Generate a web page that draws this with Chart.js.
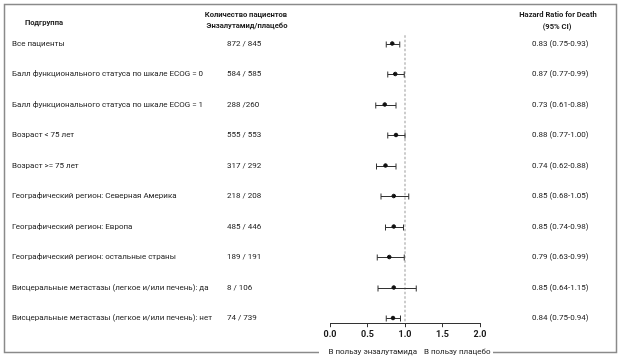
<!DOCTYPE html>
<html>
<head>
<meta charset="utf-8">
<script src="https://cdn.jsdelivr.net/npm/chart.js@4/dist/chart.umd.min.js"></script>
<style>
html,body{margin:0;padding:0;background:#fff;}
#wrap{width:621px;height:360px;position:relative;}
</style>
</head>
<body>
<div id="wrap"><canvas id="c" width="621" height="360"></canvas></div>
<script>
const subgroups = [
  'Все пациенты',
  'Балл функционального статуса по шкале ECOG = 0',
  'Балл функционального статуса по шкале ECOG = 1',
  'Возраст < 75 лет',
  'Возраст >= 75 лет',
  'Географический регион: Северная Америка',
  'Географический регион: Европа',
  'Географический регион: остальные страны',
  'Висцеральные метастазы (легкое и/или печень): да',
  'Висцеральные метастазы (легкое и/или печень): нет'
];
const counts = ['872 / 845','584 / 585','288 /260','555 / 553','317 / 292','218 / 208','485 / 446','189 / 191','8 / 106','74 / 739'];
const hr   = [0.83, 0.87, 0.73, 0.88, 0.74, 0.85, 0.85, 0.79, 0.85, 0.84];
const ciLo = [0.75, 0.77, 0.61, 0.77, 0.62, 0.68, 0.74, 0.63, 0.64, 0.75];
const ciHi = [0.93, 0.99, 0.88, 1.00, 0.88, 1.05, 0.98, 0.99, 1.15, 0.94];
const xTicks = [0.0, 0.5, 1.0, 1.5, 2.0];
const headerSub = 'Подгруппа';
const headerCount = ['Количество пациентов', 'Энзалутамид/плацебо'];
const headerHR = ['Hazard Ratio for Death', '(95% CI)'];
const favorLeft = 'В пользу энзалутамида';
const favorRight = 'В пользу плацебо';
const refValue = 1.0;

const points = hr.map((v, i) => ({x: v, y: i, lo: ciLo[i], hi: ciHi[i]}));
const fmt = v => v.toFixed(2);
const hrText = hr.map((v, i) => fmt(v) + ' (' + fmt(ciLo[i]) + '-' + fmt(ciHi[i]) + ')');

const FONT = 'Roboto, "Open Sans", sans-serif';
const TXT = '#1a1a1a';

const forestPlugin = {
  id: 'forest',
  beforeDatasetsDraw(chart) {
    const {ctx, scales: {x, y}} = chart;
    ctx.save();
    ctx.strokeStyle = '#aaa';
    ctx.lineWidth = 1.2;
    ctx.setLineDash([2.5, 2]);
    const px = x.getPixelForValue(refValue);
    ctx.beginPath();
    ctx.moveTo(px, y.getPixelForValue(-0.27));
    ctx.lineTo(px, chart.chartArea.bottom);
    ctx.stroke();
    ctx.restore();
    ctx.save();
    ctx.strokeStyle = '#333';
    ctx.lineWidth = 1;
    points.forEach(p => {
      const yy = Math.round(y.getPixelForValue(p.y)) + 0.5;
      const x1 = x.getPixelForValue(p.lo), x2 = x.getPixelForValue(p.hi);
      ctx.beginPath();
      ctx.moveTo(x1, yy); ctx.lineTo(x2, yy);
      ctx.moveTo(x1, yy - 3); ctx.lineTo(x1, yy + 3);
      ctx.moveTo(x2, yy - 3); ctx.lineTo(x2, yy + 3);
      ctx.stroke();
    });
    ctx.restore();
  },
  afterDraw(chart) {
    const {ctx, scales: {y}} = chart;
    ctx.save();
    ctx.strokeStyle = '#8a8a8a';
    ctx.lineWidth = 1.5;
    ctx.strokeRect(4.5, 4.5, 612, 348);
    ctx.fillStyle = TXT;
    ctx.textBaseline = 'middle';
    ctx.font = 'bold 7.6px ' + FONT;
    ctx.textAlign = 'center';
    ctx.fillText(headerSub, 44, 23);
    ctx.fillText(headerCount[0], 246, 15);
    ctx.fillText(headerCount[1], 247, 26);
    ctx.fillText(headerHR[0], 558, 15);
    ctx.fillText(headerHR[1], 557, 27);
    ctx.font = '8px ' + FONT;
    ctx.textAlign = 'left';
    subgroups.forEach((s, i) => {
      const yy = y.getPixelForValue(i);
      ctx.fillText(s, 12, yy);
      ctx.fillText(counts[i], 227, yy);
      ctx.fillText(hrText[i], 532, yy);
    });
    ctx.fillStyle = '#fff';
    ctx.fillRect(319, 346, 174, 12);
    ctx.fillStyle = TXT;
    ctx.textAlign = 'right';
    ctx.fillText(favorLeft, 417, 352);
    ctx.textAlign = 'left';
    ctx.fillText(favorRight, 424, 352);
    ctx.restore();
  }
};

new Chart(document.getElementById('c'), {
  type: 'scatter',
  data: {
    datasets: [{
      data: points,
      backgroundColor: '#111',
      borderColor: '#111',
      pointRadius: 1.8,
      pointHoverRadius: 1.8
    }]
  },
  options: {
    responsive: false,
    animation: false,
    events: [],
    layout: {padding: {left: 330, right: 141, top: 13, bottom: 18}},
    plugins: {legend: {display: false}, tooltip: {enabled: false}},
    scales: {
      x: {
        type: 'linear',
        min: 0, max: 2,
        afterBuildTicks: s => { s.ticks = xTicks.map(v => ({value: v})); },
        ticks: {
          callback: v => Number(v).toFixed(1),
          color: TXT,
          font: {family: FONT, size: 9, weight: 'bold'},
          padding: 2,
          maxRotation: 0,
          autoSkip: false
        },
        grid: {drawOnChartArea: false, drawTicks: true, tickLength: 4, color: '#333', tickWidth: 1},
        border: {display: true, color: '#333', width: 1}
      },
      y: {
        type: 'linear',
        reverse: true,
        min: -1.0, max: 9.17,
        display: false
      }
    }
  },
  plugins: [forestPlugin]
});
</script>
</body>
</html>
